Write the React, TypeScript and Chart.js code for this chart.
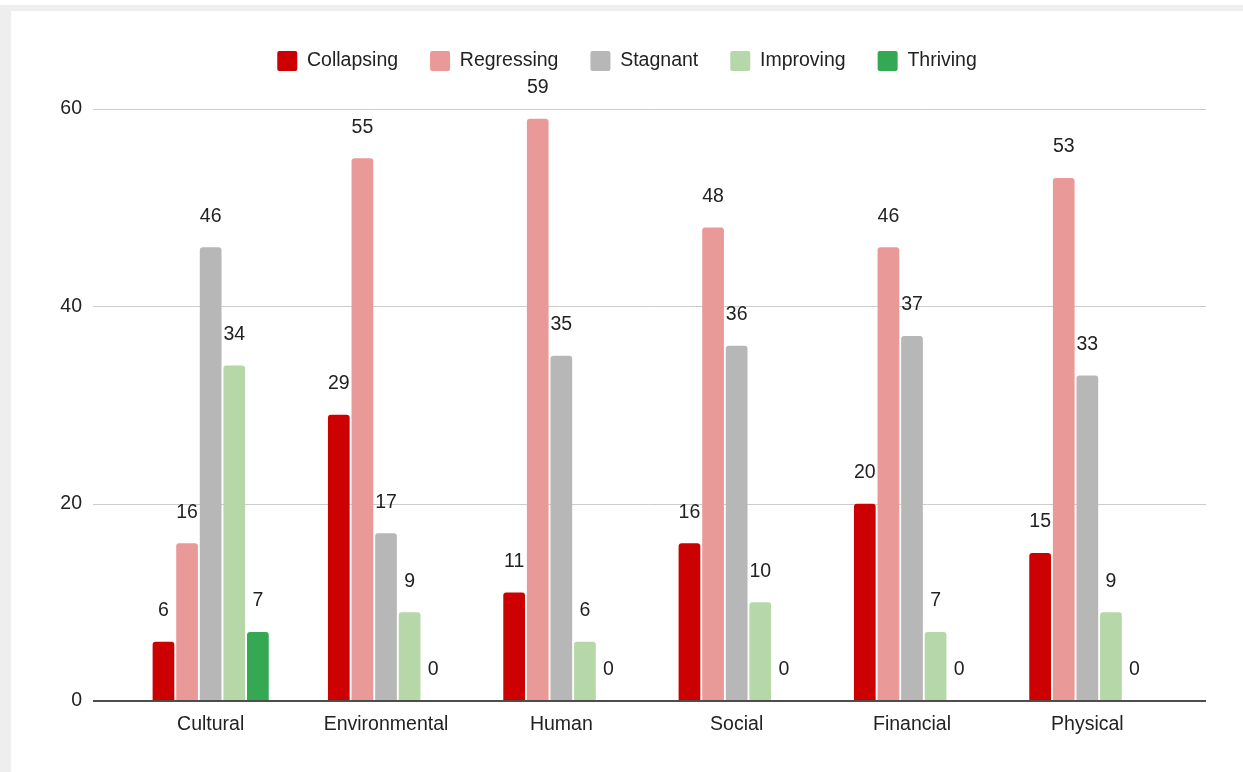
import React, { useEffect, useRef } from "react";
import { Chart, registerables } from "chart.js";

Chart.register(...registerables);

const categories = ["Cultural", "Environmental", "Human", "Social", "Financial", "Physical"];
const seriesNames = ["Collapsing", "Regressing", "Stagnant", "Improving", "Thriving"];
const collapsing = [6, 29, 11, 16, 20, 15];
const regressing = [16, 55, 59, 48, 46, 53];
const stagnant = [46, 17, 35, 36, 37, 33];
const improving = [34, 9, 6, 10, 7, 9];
const thriving = [7, 0, 0, 0, 0, 0];
const seriesColors = ["#cc0000", "#ea9999", "#b7b7b7", "#b6d7a8", "#34a853"];
const yTicks = [0, 20, 40, 60];

const FONT = "'Liberation Sans', Arial, sans-serif";
const FONT_SIZE = 19.5;
const TEXT = "#222222";

const sheetPlugin = {
  id: "sheetPlugin",
  beforeDatasetsDraw(chart: any) {
    const { ctx, chartArea } = chart;
    const ys = chart.scales.y;
    const left = chartArea.left - 30;
    const right = chartArea.right + 31;
    ctx.save();
    ctx.strokeStyle = "#cccccc";
    ctx.lineWidth = 1;
    for (const v of yTicks) {
      if (v === 0) continue;
      const py = Math.round(ys.getPixelForValue(v)) + 0.5;
      ctx.beginPath();
      ctx.moveTo(left, py);
      ctx.lineTo(right, py);
      ctx.stroke();
    }
    ctx.restore();
  },
  afterDatasetsDraw(chart: any) {
    const { ctx, chartArea } = chart;
    const ys = chart.scales.y;
    const left = chartArea.left - 30;
    const right = chartArea.right + 31;
    ctx.save();
    ctx.strokeStyle = "#4d4d4d";
    ctx.lineWidth = 2;
    const p0 = Math.round(ys.getPixelForValue(0));
    ctx.beginPath();
    ctx.moveTo(left, p0);
    ctx.lineTo(right, p0);
    ctx.stroke();

    ctx.fillStyle = TEXT;
    ctx.font = `${FONT_SIZE}px ${FONT}`;
    ctx.textAlign = "center";
    ctx.textBaseline = "middle";
    chart.data.datasets.forEach((ds: any, i: number) => {
      const meta = chart.getDatasetMeta(i);
      meta.data.forEach((el: any, j: number) => {
        const v = ds.data[j];
        ctx.fillText(String(v), el.x, el.y - 31);
      });
    });
    ctx.restore();
  },
};

export default function App() {
  const ref = useRef<HTMLCanvasElement | null>(null);

  useEffect(() => {
    if (!ref.current) return;
    const values = [collapsing, regressing, stagnant, improving, thriving];
    const chart = new Chart(ref.current, {
      type: "bar",
      data: {
        labels: categories,
        datasets: seriesNames.map((name, i) => ({
          label: name,
          data: values[i],
          backgroundColor: seriesColors[i],
          borderWidth: 0,
          borderRadius: { topLeft: 3, topRight: 3, bottomLeft: 0, bottomRight: 0 },
          borderSkipped: false,
          categoryPercentage: 0.673,
          barPercentage: 0.92,
          xAxisID: "x",
          yAxisID: "y",
        })),
      },
      options: {
        animation: false,
        responsive: false,
        maintainAspectRatio: false,
        layout: { padding: { top: 19, left: 11, right: 0, bottom: 0 } },
        plugins: {
          tooltip: { enabled: false },
          legend: {
            position: "top",
            align: "center",
            labels: {
              boxWidth: 20,
              boxHeight: 20,
              padding: 32,
              useBorderRadius: true,
              borderRadius: 2,
              color: TEXT,
              font: { family: FONT, size: FONT_SIZE },
            },
          },
        },
        scales: {
          x: {
            type: "category",
            grid: { display: false, drawTicks: false },
            border: { display: false },
            ticks: {
              color: TEXT,
              font: { family: FONT, size: FONT_SIZE },
              padding: 12,
              maxRotation: 0,
              autoSkip: false,
            },
            afterFit: (scale: any) => {
              scale.height = 71;
            },
          },
          xTop: {
            type: "category",
            position: "top",
            display: true,
            grid: { display: false, drawTicks: false },
            border: { display: false },
            ticks: { display: false },
            afterFit: (scale: any) => {
              scale.height = 28;
            },
          },
          y: {
            type: "linear",
            position: "left",
            min: 0,
            max: 60,
            grid: { display: false, drawTicks: false },
            border: { display: false },
            ticks: {
              stepSize: 20,
              color: TEXT,
              font: { family: FONT, size: FONT_SIZE },
              padding: 41,
            },
            afterFit: (scale: any) => {
              scale.width = 112;
            },
          },
          y2: {
            type: "linear",
            position: "right",
            display: true,
            min: 0,
            max: 60,
            grid: { display: false, drawTicks: false },
            border: { display: false },
            ticks: { display: false },
            afterFit: (scale: any) => {
              scale.width = 68;
            },
          },
        },
      },
      plugins: [sheetPlugin],
    } as any);
    return () => chart.destroy();
  }, []);

  return (
    <div style={{ position: "fixed", left: 0, top: 0, width: 1243, height: 772, background: "#ffffff", overflow: "hidden" }}>
      <div style={{ position: "absolute", left: 0, top: 5, right: 0, bottom: 0, background: "#eeeeee" }} />
      <div style={{ position: "absolute", left: 11, top: 11, right: 0, bottom: 0, background: "#ffffff" }} />
      <canvas ref={ref} width={1243} height={772} style={{ position: "absolute", left: 0, top: 0, width: 1243, height: 772 }} />
    </div>
  );
}
